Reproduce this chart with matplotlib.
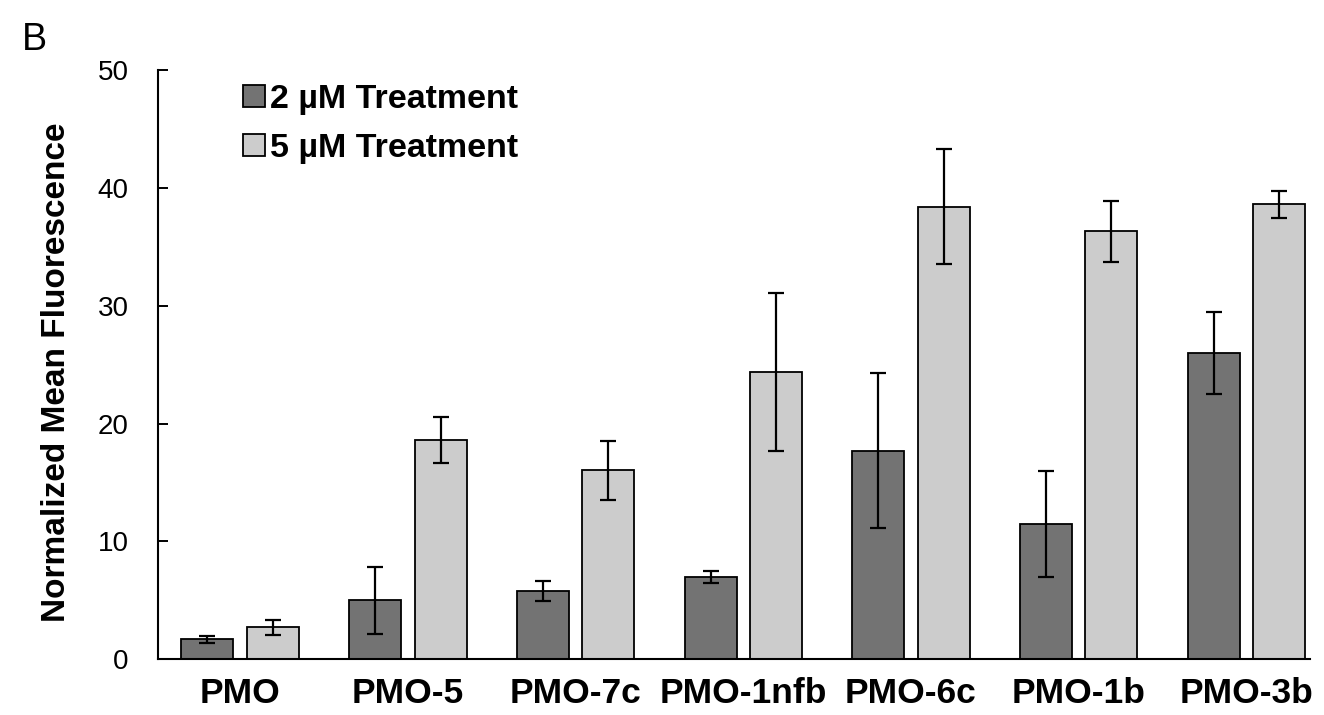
import matplotlib
matplotlib.use("Agg")
import matplotlib.pyplot as plt
import numpy as np

categories = ["PMO", "PMO-5", "PMO-7c", "PMO-1nfb", "PMO-6c", "PMO-1b", "PMO-3b"]
vals_2uM = [1.7, 5.0, 5.8, 7.0, 17.7, 11.5, 26.0]
err_2uM = [0.3, 2.85, 0.85, 0.5, 6.6, 4.5, 3.45]
vals_5uM = [2.7, 18.6, 16.05, 24.4, 38.4, 36.3, 38.6]
err_5uM = [0.65, 1.95, 2.5, 6.7, 4.9, 2.6, 1.15]
series_labels = ["2 µM Treatment", "5 µM Treatment"]
yticks = [0, 10, 20, 30, 40, 50]

plt.rcParams['font.family'] = ['Liberation Sans', 'DejaVu Sans']

fig = plt.figure(figsize=(13.24, 7.15), dpi=100)
ax = fig.add_axes([158/1324, 1-659.3/715, (1310-158)/1324, (659.3-70)/715])

x = np.arange(len(categories))
w = 0.31
off = 0.195
ax.bar(x - off, vals_2uM, width=w, color="#737373", edgecolor="black", linewidth=1.3,
       label=series_labels[0], zorder=2)
ax.bar(x + off, vals_5uM, width=w, color="#cccccc", edgecolor="black", linewidth=1.3,
       label=series_labels[1], zorder=2)
ax.errorbar(x - off, vals_2uM, yerr=err_2uM, fmt='none', ecolor='black', elinewidth=1.6,
            capsize=5.5, capthick=1.6, zorder=3)
ax.errorbar(x + off, vals_5uM, yerr=err_5uM, fmt='none', ecolor='black', elinewidth=1.6,
            capsize=5.5, capthick=1.6, zorder=3)

ax.set_xlim(-0.49, 6.38)
ax.set_ylim(0, 50)
ax.set_yticks(yticks)
ax.set_yticklabels([str(t) for t in yticks], fontsize=20)
ax.set_xticks(x)
ax.set_xticklabels(categories, fontsize=25.5, fontweight='bold')
ax.tick_params(axis='y', direction='in', length=7.5, width=1.4, pad=21)
ax.tick_params(axis='x', length=0, pad=13)
for s in ['top', 'right']:
    ax.spines[s].set_visible(False)
for s in ['left', 'bottom']:
    ax.spines[s].set_linewidth(1.5)

ax.set_ylabel("Normalized Mean Fluorescence", fontsize=24, fontweight='bold')
ax.yaxis.set_label_coords(-0.0747, 0.4875)

leg = ax.legend(loc='upper left', bbox_to_anchor=(243/1324, 1-84/715),
                bbox_transform=fig.transFigure, frameon=False, borderaxespad=0,
                borderpad=0, handlelength=0.65, handleheight=0.65, handletextpad=0.15,
                labelspacing=0.53, prop={'size': 24.5, 'weight': 'bold'})

fig.text(22/1324, 1-50/715, "B", fontsize=27, ha='left', va='baseline')

fig.savefig("out.png", dpi=100)
